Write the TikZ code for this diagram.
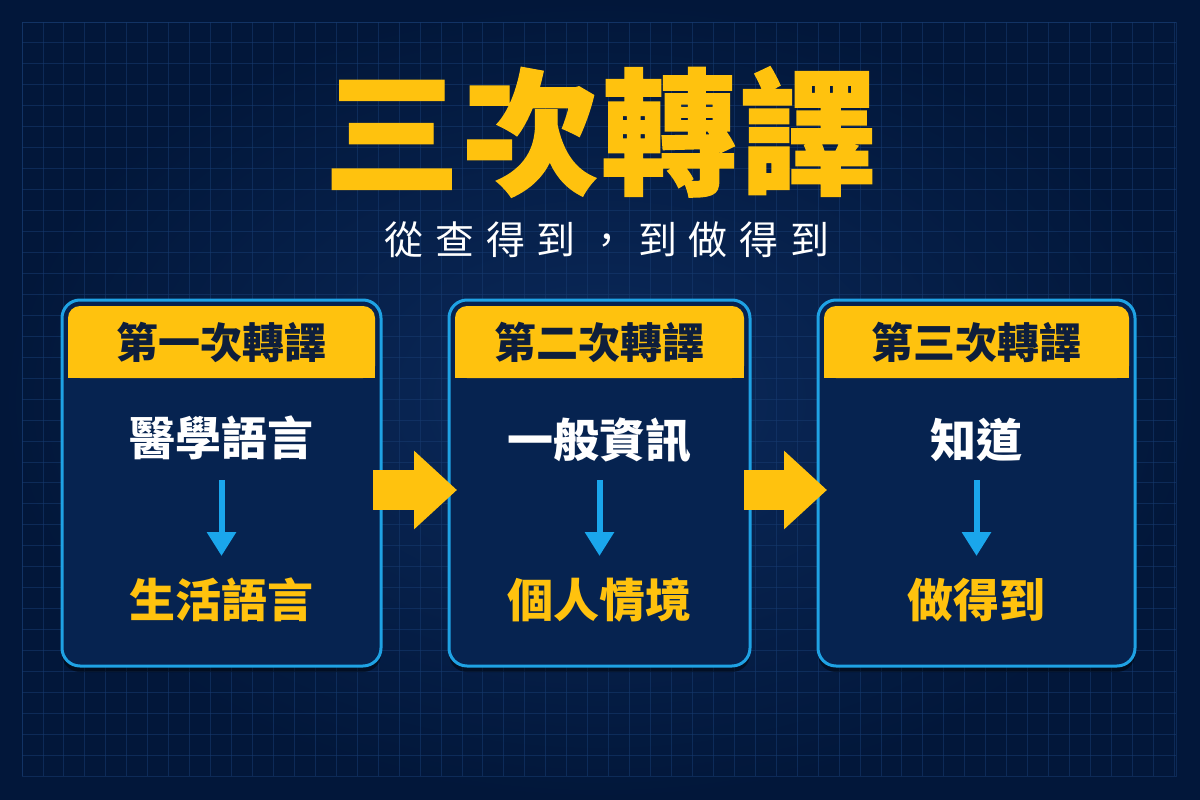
\documentclass[tikz,border=0pt]{standalone}
\usepackage{fontspec}
\setmainfont{Noto Sans CJK TC}
\usetikzlibrary{positioning,arrows.meta,shadows}

\definecolor{navy}{HTML}{02173A}
\definecolor{navyglow}{HTML}{0B2A5C}
\definecolor{gridblue}{HTML}{173B70}
\definecolor{cardfill}{HTML}{062350}
\definecolor{cardline}{HTML}{1FA2E4}
\definecolor{gold}{HTML}{FFC20E}
\definecolor{ink}{HTML}{0E1E3B}
\definecolor{skyblue}{HTML}{1AA6EC}

\begin{document}
\begin{tikzpicture}[x=1pt,y=-1pt,
    gridline/.style={draw=gridblue,line width=0.9pt,opacity=0.55},
    card/.style={draw=cardline,line width=3pt,fill=cardfill,rounded corners=18pt,
      minimum height=366pt,outer sep=0pt,
      drop shadow={shadow xshift=0pt,shadow yshift=-6pt,opacity=0.45,fill=black}},
    title/.style={font=\bfseries\fontsize{136}{136}\selectfont\addfontfeature{LetterSpace=2,FakeBold=1},text=gold,inner sep=0pt},
    tagline/.style={font=\fontsize{39}{39}\selectfont\addfontfeature{LetterSpace=30},text=white,inner sep=0pt},
    hdr/.style={font=\bfseries\fontsize{42}{42}\selectfont,text=ink,inner sep=0pt},
    word/.style={font=\bfseries\fontsize{46}{46}\selectfont,text=white,inner sep=0pt},
    goal/.style={word,text=gold},
    down/.style={draw=skyblue,line width=6pt,-{Triangle[length=24pt,width=28pt]}},
    push/.style={draw=gold,line width=40pt,-{Triangle[length=43pt,width=76pt]}}]

\useasboundingbox (0,0) rectangle (1200,800);
\fill[navy] (0,0) rectangle (1200,800);
\shade[inner color=navyglow,outer color=navy] (0,0) rectangle (1200,800);
\foreach \gx in {22,42.95,...,1176} \draw[gridline] (\gx,22) -- (\gx,776);
\foreach \gy in {22,42.95,...,776} \draw[gridline] (22,\gy) -- (1176,\gy);
\draw[gridline] (22,22) rectangle (1176,776);

\node[title] (ttl) at (600,132) {三次轉譯};
\node[tagline] (sub) at (607,240) {從查得到，到做得到};

\node[card,minimum width=319pt] (c1) at (221.5,483) {};
\node[card,minimum width=301pt] (c2) at (599.5,483) {};
\node[card,minimum width=317pt] (c3) at (976.5,483) {};

\foreach \c in {c1,c2,c3} {
  \fill[gold,rounded corners=12pt] ([xshift=6pt,yshift=-6pt]\c.north west) rectangle ([xshift=-6pt,yshift=-78pt]\c.north east);
  \fill[gold] ([xshift=6pt,yshift=-40pt]\c.north west) rectangle ([xshift=-6pt,yshift=-78pt]\c.north east);
}

\node[hdr] (h1) at ([yshift=-42pt]c1.north) {第一次轉譯};
\node[hdr] (h2) at ([yshift=-42pt]c2.north) {第二次轉譯};
\node[hdr] (h3) at ([yshift=-42pt]c3.north) {第三次轉譯};

\node[word] (t1) at (221.5,438) {醫學語言};
\node[goal] (b1) at (221.5,600) {生活語言};
\node[word] (t2) at (599.5,440) {一般資訊};
\node[goal] (b2) at (599.5,600) {個人情境};
\node[word] (t3) at (976.5,440) {知道};
\node[goal] (b3) at (976.5,600) {做得到};

\draw[down] ([yshift=-42pt]t1.center) -- ([yshift=44pt]b1.center);
\draw[down] ([yshift=-40pt]t2.center) -- ([yshift=44pt]b2.center);
\draw[down] ([yshift=-40pt]t3.center) -- ([yshift=44pt]b3.center);

\draw[push] ([shift={(-8pt,-7pt)}]c1.east) -- ([shift={(8pt,-7pt)}]c2.west);
\draw[push] ([shift={(-6pt,-7pt)}]c2.east) -- ([shift={(9pt,-7pt)}]c3.west);
\end{tikzpicture}
\end{document}
